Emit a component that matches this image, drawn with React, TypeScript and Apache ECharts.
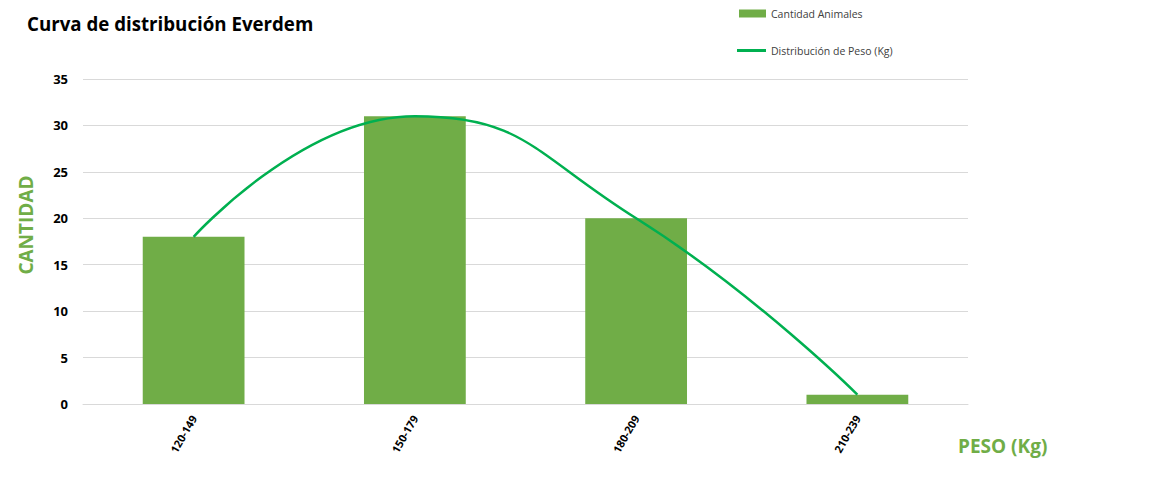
import React, { useEffect, useRef } from "react";
import * as echarts from "echarts";

const categories = ["120-149", "150-179", "180-209", "210-239"];
const cantidadAnimales = [18, 31, 20, 1];
const distribucionPeso = [18, 31, 20, 1];
const yTicks = { min: 0, max: 35, interval: 5 };

export default function App() {
  const ref = useRef<HTMLDivElement>(null);
  useEffect(() => {
    if (!ref.current) return;
    const chart = echarts.init(ref.current, undefined, { renderer: "svg" });
    const font = "'Open Sans', 'Liberation Sans', sans-serif";
    const legendText = { fontSize: 10.5, color: "#404040", fontFamily: font };
    chart.setOption({
      animation: false,
      backgroundColor: "#ffffff",
      textStyle: { fontFamily: font },
      grid: { left: 83, right: 189, top: 79, bottom: 92, containLabel: false },
      legend: [
        {
          left: 739,
          top: 8,
          padding: 0,
          itemWidth: 27,
          itemHeight: 8,
          textStyle: legendText,
          data: [{ name: "Cantidad Animales", icon: "rect" }],
        },
        {
          left: 737,
          top: 45,
          padding: 0,
          itemWidth: 29,
          itemHeight: 3,
          textStyle: legendText,
          data: [{ name: "Distribución de Peso (Kg)", icon: "rect" }],
        },
      ],
      graphic: [
        {
          type: "text",
          left: 27,
          top: 14,
          style: { text: "Curva de distribución Everdem", font: `bold 18.7px ${font}`, fill: "#000000" },
        },
        {
          type: "text",
          x: 26,
          y: 225,
          rotation: Math.PI / 2,
          style: {
            text: "CANTIDAD",
            font: `bold 19px ${font}`,
            fill: "#70AD47",
            align: "center",
            verticalAlign: "middle",
          },
        },
        {
          type: "text",
          left: 958,
          top: 436,
          style: { text: "PESO (Kg)", font: `bold 19px ${font}`, fill: "#70AD47" },
        },
      ],
      xAxis: {
        type: "category",
        data: categories,
        axisLine: { lineStyle: { color: "#d9d9d9" } },
        axisTick: { show: false },
        axisLabel: { rotate: 60, fontSize: 11, fontWeight: "bold", color: "#000000", margin: 12 },
      },
      yAxis: {
        type: "value",
        min: yTicks.min,
        max: yTicks.max,
        interval: yTicks.interval,
        axisLine: { show: false },
        axisTick: { show: false },
        splitLine: { lineStyle: { color: "#d9d9d9" } },
        axisLabel: { fontSize: 13, fontWeight: "bold", color: "#000000", margin: 15 },
      },
      series: [
        {
          name: "Cantidad Animales",
          type: "bar",
          data: cantidadAnimales,
          barWidth: "46%",
          itemStyle: { color: "#70AD47" },
        },
        {
          name: "Distribución de Peso (Kg)",
          type: "line",
          data: distribucionPeso,
          smooth: 0.5,
          symbol: "none",
          lineStyle: { color: "#00B050", width: 2.5 },
          itemStyle: { color: "#00B050" },
        },
      ],
    });
    return () => chart.dispose();
  }, []);
  return (
    <div
      ref={ref}
      style={{ position: "absolute", left: 0, top: 0, width: 1157, height: 496 }}
    />
  );
}
